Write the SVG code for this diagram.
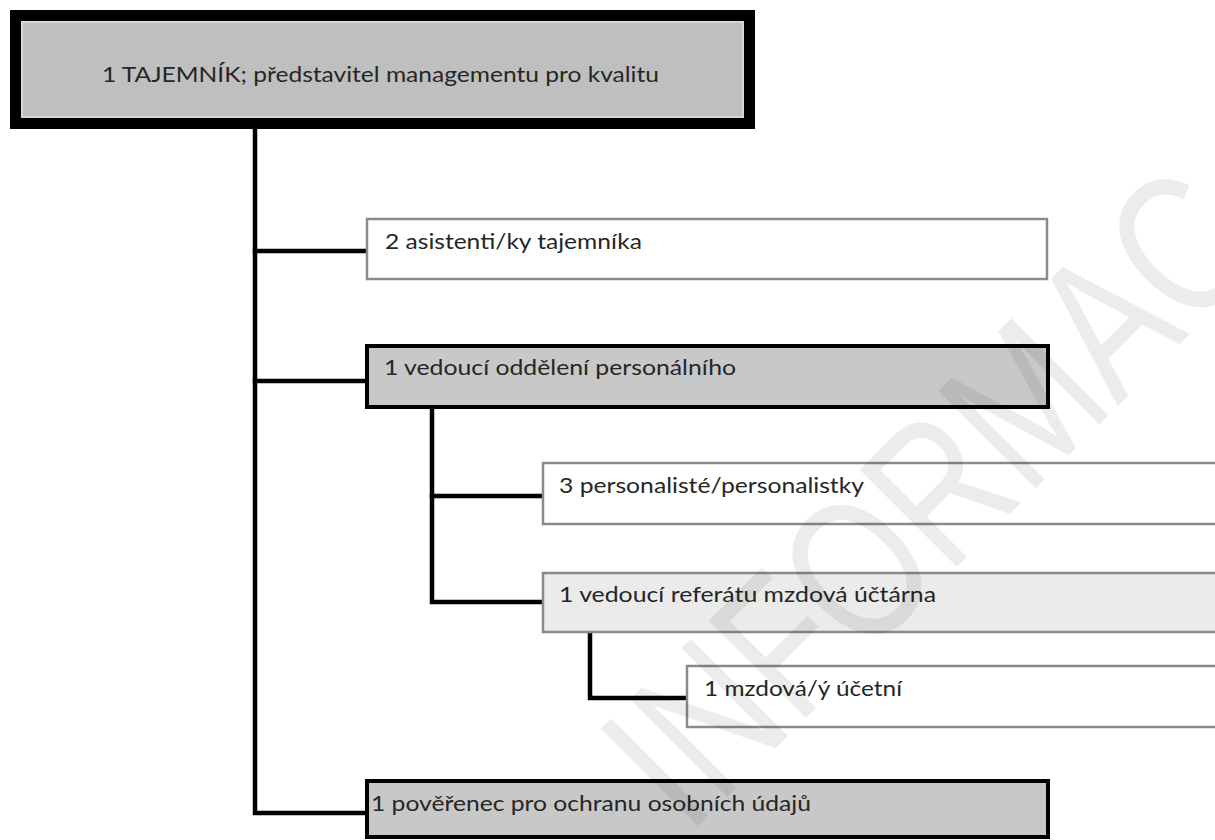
<svg xmlns="http://www.w3.org/2000/svg" width="1215" height="840" viewBox="0 0 1215 840">
<style>
.lbl{font-family:Lato,"Liberation Sans","DejaVu Sans",sans-serif;font-size:21px;fill:#262626;}
.wbox{fill:#ffffff;stroke:#8a8a8a;stroke-width:2.5;}
.lbox{fill:#ebebeb;stroke:#8a8a8a;stroke-width:2.5;}
.gbox{fill:#c8c8c8;stroke:#000;stroke-width:4;}
.conn{fill:none;stroke:#000;stroke-width:4.5;stroke-linejoin:miter;stroke-linecap:square;}
.wm{font-family:"Liberation Sans","DejaVu Sans",sans-serif;font-size:200px;fill:#000;fill-opacity:0.075;}
</style>
<rect width="1215" height="840" fill="#ffffff"/>
<g id="connectors">
<path class="conn" d="M255,129 V813 H367"/>
<path class="conn" d="M255,251 H367"/>
<path class="conn" d="M255,381 H367"/>
<path class="conn" d="M432,407 V602 H543"/>
<path class="conn" d="M432,496 H543"/>
<path class="conn" d="M590,632 V698 H687"/>
</g>
<g id="n1">
<rect x="15.5" y="15.5" width="734" height="108" fill="#bfbfbf" stroke="#000" stroke-width="11"/>
<rect x="22" y="22" width="721" height="95" fill="none" stroke="#dedede" stroke-width="1.5"/>
<text class="lbl" x="102" y="82" textLength="557" lengthAdjust="spacingAndGlyphs">1 TAJEMNÍK; představitel managementu pro kvalitu</text>
</g>
<g id="n2">
<rect class="wbox" x="367" y="219" width="680" height="60"/>
<text class="lbl" x="385" y="249" textLength="257" lengthAdjust="spacingAndGlyphs">2 asistenti/ky tajemníka</text>
</g>
<g id="n3">
<rect class="gbox" x="367" y="346" width="681" height="61"/>
<text class="lbl" x="384" y="375" textLength="352" lengthAdjust="spacingAndGlyphs">1 vedoucí oddělení personálního</text>
</g>
<g id="n4">
<rect class="wbox" x="543" y="463" width="690" height="61"/>
<text class="lbl" x="559" y="493" textLength="305" lengthAdjust="spacingAndGlyphs">3 personalisté/personalistky</text>
</g>
<g id="n5">
<rect class="lbox" x="543" y="573" width="690" height="59"/>
<text class="lbl" x="559" y="602" textLength="377" lengthAdjust="spacingAndGlyphs">1 vedoucí referátu mzdová účtárna</text>
</g>
<g id="n6">
<rect class="wbox" x="687" y="666" width="546" height="61"/>
<text class="lbl" x="704" y="696" textLength="198" lengthAdjust="spacingAndGlyphs">1 mzdová/ý účetní</text>
</g>
<g id="n7">
<rect class="gbox" x="367" y="781" width="681" height="56"/>
<text class="lbl" x="371" y="811" textLength="440" lengthAdjust="spacingAndGlyphs">1 pověřenec pro ochranu osobních údajů</text>
</g>
<text class="wm" transform="translate(688,836) rotate(-45) scale(0.77,1)">INFORMAC</text>
</svg>
